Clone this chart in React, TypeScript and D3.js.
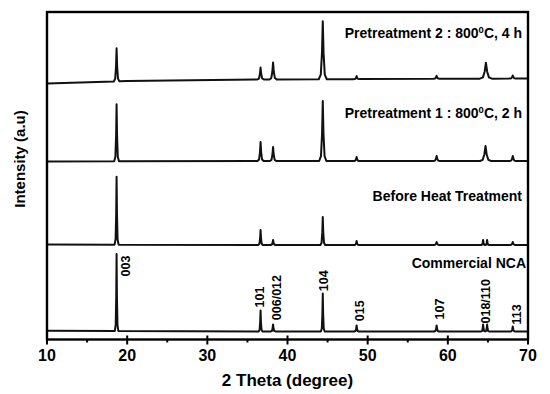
import React from 'react';
import * as d3 from 'd3';

// ---------- data ----------
const xTicks = [10, 20, 30, 40, 50, 60, 70];
const xMinorTicks = [15, 25, 35, 45, 55, 65];

const seriesNames = ['Pretreatment 2', 'Pretreatment 1', 'Before Heat Treatment', 'Commercial NCA'];

// baseline of each trace: [2theta, intensity]
const pre2Baseline = [[10, 256], [20, 258.5], [36, 260], [70, 261]];
const pre1Baseline = [[10, 178], [40, 178.5], [70, 178.5]];
const beforeBaseline = [[10, 95], [40, 94.5], [70, 94.5]];
const ncaBaseline = [[10, 8.8], [40, 8], [70, 8]];

// peaks of each trace: [2theta, height above baseline, half width at base]
const pre2Peaks = [[18.68, 33, 0.35], [36.64, 12, 0.4], [38.2, 17, 0.45], [44.4, 58, 0.5], [48.62, 3, 0.35], [58.6, 3, 0.4], [64.75, 16, 0.75], [68.1, 3, 0.4]];
const pre1Peaks = [[18.68, 57, 0.3], [36.64, 19, 0.38], [38.2, 14, 0.4], [44.4, 60, 0.45], [48.62, 4, 0.35], [58.6, 5, 0.4], [64.7, 15, 0.7], [68.1, 5, 0.4]];
const beforePeaks = [[18.68, 68, 0.25], [36.64, 15, 0.28], [38.2, 5, 0.3], [44.4, 28, 0.3], [48.62, 4, 0.3], [58.6, 3, 0.35], [64.4, 5, 0.25], [64.9, 5, 0.25], [68.1, 3, 0.35]];
const ncaPeaks = [[18.68, 77, 0.22], [36.64, 21, 0.24], [38.2, 7, 0.28], [44.4, 38, 0.24], [48.62, 6, 0.28], [58.6, 6, 0.3], [64.4, 7, 0.25], [64.9, 7, 0.25], [68.1, 5, 0.3]];

const seriesBaselines = [pre2Baseline, pre1Baseline, beforeBaseline, ncaBaseline];
const seriesPeaks = [pre2Peaks, pre1Peaks, beforePeaks, ncaPeaks];

// series labels
const labelMain = ['Pretreatment 2 : 800', 'Pretreatment 1 : 800', 'Before Heat Treatment', 'Commercial NCA'];
const labelSup = ['0', '0', '', ''];
const labelTail = ['C, 4 h', 'C, 2 h', '', ''];
const labelLevel = [302, 222, 138.3, 72];

// Miller index labels on the commercial trace
const hklText = ['003', '101', '006/012', '104', '015', '107', '018/110', '113'];
const hklTheta = [19.85, 36.45, 38.65, 44.55, 48.96, 58.94, 64.64, 68.59];
const hklLevel = [63, 32, 19.3, 48.3, 18.3, 20, 16, 15];

// ---------- layout ----------
const W = 550, H = 394;
const left = 47, right = 528, top = 12, bottom = 339.5;
const FONT = '"Liberation Sans", Arial, Helvetica, sans-serif';

const x = d3.scaleLinear().domain([10, 70]).range([left, right]);
const y = d3.scaleLinear().domain([0, 327.5]).range([bottom, top]);

function tracePoints(baseline: number[][], peaks: number[][]) {
  const base = d3.scaleLinear().domain(baseline.map(d => d[0])).range(baseline.map(d => d[1]));
  const pts: [number, number][] = [];
  const sorted = peaks.slice().sort((a, b) => a[0] - b[0]);
  const shape = [[-1, 0], [-0.5, 0.08], [-0.2, 0.45], [0, 1], [0.2, 0.45], [0.5, 0.08], [1, 0]];
  pts.push([10, base(10)]);
  sorted.forEach(([t, h, w]) => {
    shape.forEach(([dx, f]) => {
      const tt = t + dx * w;
      pts.push([tt, base(tt) + f * h]);
    });
  });
  baseline.forEach(d => { if (d[0] > 10) pts.push([d[0], d[1]]); });
  pts.sort((a, b) => a[0] - b[0]);
  return pts;
}

const line = d3.line<[number, number]>().x(d => x(d[0])).y(d => y(d[1]));

export default function App() {
  return (
    <svg width={W} height={H} style={{ position: 'absolute', left: 0, top: 0, background: '#fff' }} fontFamily={FONT}>
      <rect x={0} y={0} width={W} height={H} fill="#fff" />
      {seriesNames.map((name, i) => (
        <path key={name} d={line(tracePoints(seriesBaselines[i], seriesPeaks[i])) || ''} fill="none" stroke="#111" strokeWidth={2} strokeLinejoin="round" />
      ))}
      {/* frame */}
      <rect x={left} y={top} width={right - left} height={bottom - top} fill="none" stroke="#000" strokeWidth={2.4} />
      {xTicks.map(t => (
        <line key={'M' + t} x1={x(t)} x2={x(t)} y1={bottom - 4} y2={bottom + 5} stroke="#000" strokeWidth={2} />
      ))}
      {xMinorTicks.map(t => (
        <line key={'m' + t} x1={x(t)} x2={x(t)} y1={bottom} y2={bottom + 3} stroke="#000" strokeWidth={2} />
      ))}
      {xTicks.map(t => (
        <text key={'L' + t} x={x(t)} y={361} textAnchor="middle" fontSize={16} fontWeight="bold">{t}</text>
      ))}
      <text x={(left + right) / 2} y={386} textAnchor="middle" fontSize={17} fontWeight="bold">2 Theta (degree)</text>
      <text transform={`translate(25,159) rotate(-90)`} textAnchor="middle" fontSize={15} fontWeight="bold">Intensity (a.u)</text>
      {seriesNames.map((name, i) => (
        <text key={'s' + name} x={i === 3 ? 526 : 522} y={y(labelLevel[i])} textAnchor="end" fontSize={14} fontWeight="bold">
          {labelMain[i]}
          {labelSup[i] ? <tspan dy={-5} fontSize={9.5}>{labelSup[i]}</tspan> : null}
          {labelTail[i] ? <tspan dy={labelSup[i] ? 5 : 0}>{labelTail[i]}</tspan> : null}
        </text>
      ))}
      {hklText.map((t, i) => (
        <text key={'h' + t} transform={`translate(${x(hklTheta[i]) + 4.5},${y(hklLevel[i])}) rotate(-90)`} textAnchor="start" fontSize={12.5} fontWeight="bold">{t}</text>
      ))}
    </svg>
  );
}
